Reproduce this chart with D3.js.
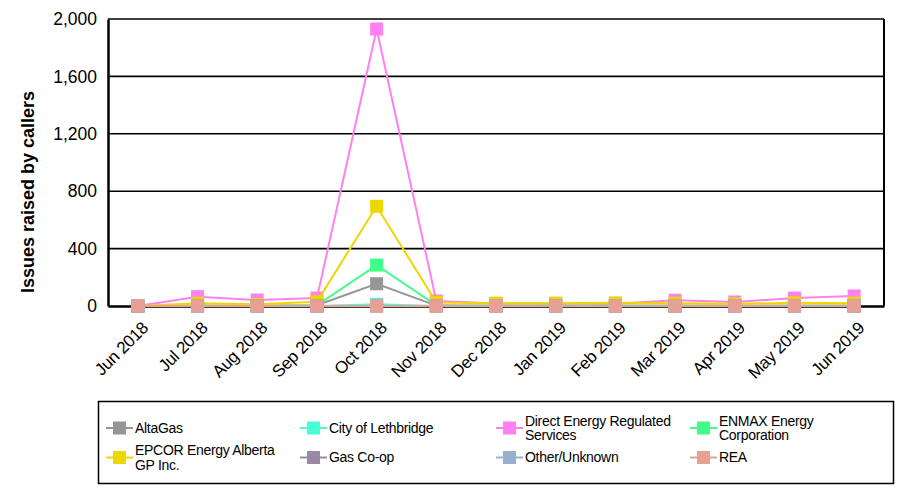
<!DOCTYPE html>
<html>
<head>
<meta charset="utf-8">
<script src="https://cdn.jsdelivr.net/npm/d3@7"></script>
<style>
  body { margin: 0; background: #fff; }
  text { font-family: "Liberation Sans", Arial, sans-serif; fill: #000; }
</style>
</head>
<body>
<div id="chart"></div>
<script>
// months on the x axis
const months = ['Jun 2018', 'Jul 2018', 'Aug 2018', 'Sep 2018', 'Oct 2018', 'Nov 2018', 'Dec 2018',
                'Jan 2019', 'Feb 2019', 'Mar 2019', 'Apr 2019', 'May 2019', 'Jun 2019'];
const yTicks = [0, 400, 800, 1200, 1600, 2000];

// series values
const altaGas      = [0, 2, 2, 5, 155, 3, 2, 2, 2, 2, 2, 2, 2];
const lethbridge   = [0, 0, 0, 0, 12, 0, 0, 0, 0, 0, 0, 0, 0];
const directEnergy = [0, 65, 42, 55, 1930, 35, 18, 18, 15, 40, 28, 55, 70];
const enmax        = [0, 3, 2, 5, 285, 5, 3, 3, 3, 3, 3, 3, 3];
const epcor        = [0, 20, 12, 30, 695, 25, 20, 20, 22, 20, 15, 22, 20];
const gasCoop      = [0, 0, 0, 0, 0, 0, 0, 0, 0, 0, 0, 0, 0];
const otherUnknown = [0, 0, 0, 0, 0, 0, 0, 0, 0, 0, 0, 0, 0];
const rea          = [0, 0, 0, 0, 0, 0, 0, 0, 0, 0, 0, 0, 0];

const seriesNames = ['AltaGas', 'City of Lethbridge', 'Direct Energy Regulated Services', 'ENMAX Energy Corporation',
                     'EPCOR Energy Alberta GP Inc.', 'Gas Co-op', 'Other/Unknown', 'REA'];
const legendLabels = [['AltaGas'], ['City of Lethbridge'], ['Direct Energy Regulated', 'Services'], ['ENMAX Energy', 'Corporation'],
                      ['EPCOR Energy Alberta', 'GP Inc.'], ['Gas Co-op'], ['Other/Unknown'], ['REA']];
const seriesColors = ['#969696', '#46ffd6', '#ff80ee', '#40fc88', '#eed600', '#9a88a6', '#98b0cc', '#e8a096'];
const seriesValues = [altaGas, lethbridge, directEnergy, enmax, epcor, gasCoop, otherUnknown, rea];

const W = 900, H = 487;
const margin = {top: 19, right: 16, bottom: 181, left: 108};
const width = W - margin.left - margin.right;
const height = H - margin.top - margin.bottom;

const svg = d3.select('#chart').append('svg')
    .attr('width', W)
    .attr('height', H);

const g = svg.append('g')
    .attr('transform', `translate(${margin.left},${margin.top})`);

const x = d3.scalePoint()
    .domain(months)
    .range([0, width])
    .padding(0.5);

const y = d3.scaleLinear()
    .domain([0, 2000])
    .range([height, 0]);

// gridlines
g.append('g')
    .selectAll('line')
    .data(yTicks.filter(d => d > 0))
    .enter()
    .append('line')
    .attr('x1', 0)
    .attr('x2', width)
    .attr('y1', d => y(d))
    .attr('y2', d => y(d))
    .attr('stroke', '#000')
    .attr('stroke-width', 1.6);

// right border
g.append('line')
    .attr('x1', width).attr('x2', width)
    .attr('y1', 0).attr('y2', height)
    .attr('stroke', '#000')
    .attr('stroke-width', 2);

// y axis
const yAxis = g.append('g')
    .call(d3.axisLeft(y).tickValues(yTicks).tickSize(0).tickPadding(11).tickFormat(d3.format(',')));
yAxis.select('.domain').attr('stroke', '#000').attr('stroke-width', 2.5);
yAxis.selectAll('text')
    .style('font-size', '17.5px')
    .style('font-family', '"Liberation Sans", Arial, sans-serif');

// x axis
const xAxis = g.append('g')
    .attr('transform', `translate(0,${height})`)
    .call(d3.axisBottom(x).tickSize(0).tickFormat(''));
xAxis.select('.domain').attr('stroke', '#000').attr('stroke-width', 2.5);

g.append('g')
    .selectAll('text')
    .data(months)
    .enter()
    .append('text')
    .attr('transform', d => `translate(${x(d) + 7},${height + 19}) rotate(-45)`)
    .attr('text-anchor', 'end')
    .attr('dy', '0.35em')
    .style('font-size', '17px')
    .style('letter-spacing', '-0.4px')
    .text(d => d);

// axis title
svg.append('text')
    .attr('transform', 'translate(34,192) rotate(-90)')
    .attr('text-anchor', 'middle')
    .style('font-size', '18px')
    .style('font-weight', 'bold')
    .text('Issues raised by callers');

// series
const line = d3.line()
    .x((d, i) => x(months[i]))
    .y(d => y(d));

const ms = 13;
seriesValues.forEach((vals, si) => {
    const sg = g.append('g');
    sg.append('path')
        .datum(vals)
        .attr('fill', 'none')
        .attr('stroke', seriesColors[si])
        .attr('stroke-width', 2)
        .attr('d', line);
    sg.selectAll('rect')
        .data(vals)
        .enter()
        .append('rect')
        .attr('x', (d, i) => x(months[i]) - ms / 2)
        .attr('y', d => y(d) - ms / 2)
        .attr('width', ms)
        .attr('height', ms)
        .attr('fill', seriesColors[si]);
});

// legend
const legend = svg.append('g');
legend.append('rect')
    .attr('x', 98.5)
    .attr('y', 401.5)
    .attr('width', 795)
    .attr('height', 82)
    .attr('fill', 'none')
    .attr('stroke', '#000')
    .attr('stroke-width', 1.5);

const colX = [106, 300, 496, 690];
const rowY = [428, 457.5];
seriesNames.forEach((name, i) => {
    const cx = colX[i % 4];
    const cy = rowY[Math.floor(i / 4)];
    const item = legend.append('g').attr('transform', `translate(${cx},${cy})`);
    item.append('line')
        .attr('x1', 0).attr('x2', 27)
        .attr('y1', 0).attr('y2', 0)
        .attr('stroke', seriesColors[i])
        .attr('stroke-width', 2);
    item.append('rect')
        .attr('x', 7).attr('y', -6.5)
        .attr('width', 13).attr('height', 13)
        .attr('fill', seriesColors[i]);
    const lines = legendLabels[i];
    const t = item.append('text')
        .style('font-size', '14px')
        .style('letter-spacing', '-0.3px');
    lines.forEach((l, li) => {
        t.append('tspan')
            .attr('x', 29)
            .attr('y', (li - (lines.length - 1) / 2) * 14.5)
            .attr('dy', '0.35em')
            .text(l);
    });
});
</script>
</body>
</html>
